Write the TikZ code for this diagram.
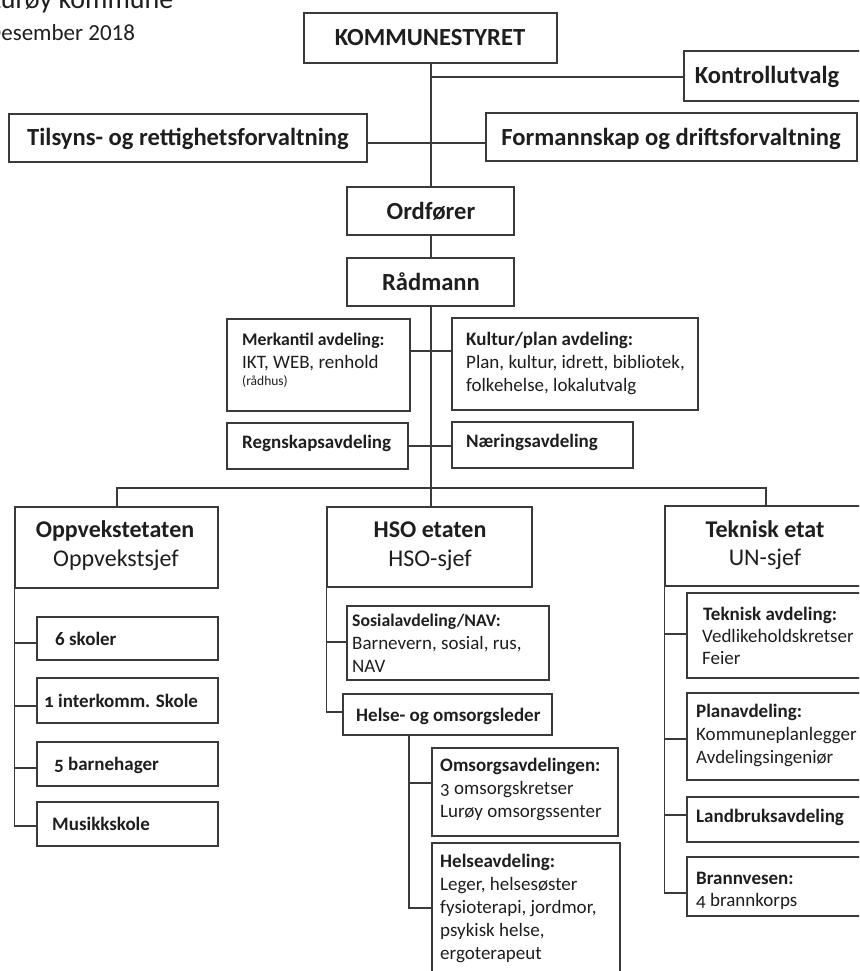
\documentclass[tikz,border=0pt]{standalone}
\usepackage{fontspec}
\setmainfont{Carlito}
\newfontfamily\osf{Carlito}[Numbers=OldStyle]
\usetikzlibrary{fit}
\definecolor{linec}{HTML}{3A3A3A}
\definecolor{txtc}{HTML}{1E1E1E}
\newcommand\fH{\fontsize{28}{32}\selectfont}
\newcommand\fHb{\fontsize{23}{27}\selectfont}
\newcommand\fA{\fontsize{24.6}{28}\selectfont\bfseries}
\newcommand\fE{\fontsize{24}{28}\selectfont}
\newcommand\fS{\fontsize{19}{23}\selectfont}
\newcommand\fSb{\fontsize{17.7}{22}\selectfont\bfseries}
\newcommand\fT{\fontsize{13.5}{15}\selectfont}
\begin{document}
\begin{tikzpicture}[x=1pt,y=-1pt,
  box/.style={draw=linec,line width=1.3pt,inner sep=0pt},
  conn/.style={draw=linec,line width=1.3pt},
  tl/.style={inner sep=0pt,anchor=base west,text=txtc},
  tc/.style={inner sep=0pt,anchor=base,text=txtc}]
\useasboundingbox (0,0) rectangle (859,971);
\clip (0,0) rectangle (859,971);
% header
\node[tl,font=\fH] (h1) at (-11,9) {Lurøy kommune};
\node[tl,font=\fHb] (h2) at (-13,41) {Desember 2018};
% boxes
\node[box,fit={(304,13)(557,63)}] (ks) {};
\node[box,fit={(684,51)(880,101)}] (kon) {};
\node[box,fit={(9,114)(367,162)}] (tils) {};
\node[box,fit={(486,113)(857,161)}] (form) {};
\node[box,fit={(347,187)(514,235)}] (ord) {};
\node[box,fit={(347,258)(514,306)}] (rad) {};
\node[box,fit={(227,319)(410,411)}] (merk) {};
\node[box,fit={(452,318)(698,410)}] (kult) {};
\node[box,fit={(227,423)(408,469)}] (regn) {};
\node[box,fit={(452,422)(633,468)}] (naer) {};
\node[box,fit={(15,507)(218,588)}] (opp) {};
\node[box,fit={(37,617)(218,660)}] (s6) {};
\node[box,fit={(37,678)(218,723)}] (s1) {};
\node[box,fit={(37,742)(218,786)}] (s5) {};
\node[box,fit={(37,802)(218,846)}] (mus) {};
\node[box,fit={(327,507)(532,587)}] (hso) {};
\node[box,fit={(347,606)(549,680)}] (sos) {};
\node[box,fit={(343,694)(552,735)}] (hol) {};
\node[box,fit={(432,748)(618,836)}] (oms) {};
\node[box,fit={(432,843)(620,990)}] (hel) {};
\node[box,fit={(665,506)(880,586)}] (tek) {};
\node[box,fit={(687,593)(880,678)}] (tav) {};
\node[box,fit={(687,693)(880,780)}] (pav) {};
\node[box,fit={(687,797)(880,842)}] (lav) {};
\node[box,fit={(687,857)(880,916)}] (bra) {};
% texts
\node[tc,font=\fA] (ks-t) at (430,46) {KOMMUNESTYRET};
\node[tc,font=\fA] (kon-t) at (767,84) {Kontrollutvalg};
\node[tc,font=\fA] (tils-t) at (188,146) {Tilsyns- og rettighetsforvaltning};
\node[tc,font=\fA] (form-t) at (671,145) {Formannskap og driftsforvaltning};
\node[tc,font=\fA] (ord-t) at (431,219) {Ordfører};
\node[tc,font=\fA] (rad-t) at (431,290) {Rådmann};
\node[tl,font=\fSb] (merk-t1) at (242,345) {Merkantil avdeling:};
\node[tl,font=\fS] (merk-t2) at (242,368) {IKT, WEB, renhold};
\node[tl,font=\fT] (merk-t3) at (242,385) {(rådhus)};
\node[tl,font=\fS\bfseries] (kult-t1) at (466,345) {Kultur/plan avdeling:};
\node[tl,font=\fS] (kult-t2) at (466,368) {Plan, kultur, idrett, bibliotek,};
\node[tl,font=\fS] (kult-t3) at (466,391) {folkehelse, lokalutvalg};
\node[tl,font=\fS\bfseries] (regn-t) at (242,448) {Regnskapsavdeling};
\node[tl,font=\fS\bfseries] (naer-t) at (466,447) {Næringsavdeling};
\node[tc,font=\fE\bfseries] (opp-t1) at (115,537) {Oppvekstetaten};
\node[tc,font=\fE] (opp-t2) at (116,566) {Oppvekstsjef};
\node[tl,font=\fS\bfseries] (s6-t) at (55,645) {6 skoler};
\node[tl,font=\fS\bfseries\osf] (s1-t) at (44,707) {1 interkomm. Skole};
\node[tl,font=\fS\bfseries\osf] (s5-t) at (54,770) {5 barnehager};
\node[tl,font=\fS\bfseries] (mus-t) at (52,830) {Musikkskole};
\node[tc,font=\fE\bfseries] (hso-t1) at (430,537) {HSO etaten};
\node[tc,font=\fE] (hso-t2) at (430,566) {HSO-sjef};
\node[tl,font=\fSb] (sos-t1) at (352,626) {Sosialavdeling/NAV:};
\node[tl,font=\fS] (sos-t2) at (352,649) {Barnevern, sosial, rus,};
\node[tl,font=\fS] (sos-t3) at (352,672) {NAV};
\node[tl,font=\fS\bfseries] (hol-t) at (356,721) {Helse- og omsorgsleder};
\node[tl,font=\fS\bfseries] (oms-t1) at (440,771) {Omsorgsavdelingen:};
\node[tl,font=\fS\osf] (oms-t2) at (440,794) {3 omsorgskretser};
\node[tl,font=\fS] (oms-t3) at (440,817) {Lurøy omsorgssenter};
\node[tl,font=\fS\bfseries] (hel-t1) at (440,867) {Helseavdeling:};
\node[tl,font=\fS] (hel-t2) at (440,890) {Leger, helsesøster};
\node[tl,font=\fS] (hel-t3) at (440,913) {fysioterapi, jordmor,};
\node[tl,font=\fS] (hel-t4) at (440,936) {psykisk helse,};
\node[tl,font=\fS] (hel-t5) at (440,959) {ergoterapeut};
\node[tc,font=\fE\bfseries] (tek-t1) at (765,537) {Teknisk etat};
\node[tc,font=\fE] (tek-t2) at (765,565) {UN-sjef};
\node[tl,font=\fS\bfseries] (tav-t1) at (703,620) {Teknisk avdeling:};
\node[tl,font=\fS] (tav-t2) at (702,642) {Vedlikeholdskretser};
\node[tl,font=\fS] (tav-t3) at (702,664) {Feier};
\node[tl,font=\fS\bfseries] (pav-t1) at (696,717) {Planavdeling:};
\node[tl,font=\fS] (pav-t2) at (696,740) {Kommuneplanlegger};
\node[tl,font=\fS] (pav-t3) at (696,763) {Avdelingsingeniør};
\node[tl,font=\fS\bfseries] (lav-t) at (696,822) {Landbruksavdeling};
\node[tl,font=\fS\bfseries] (bra-t1) at (696,884) {Brannvesen:};
\node[tl,font=\fS\osf] (bra-t2) at (696,906) {4 brannkorps};
% connector coordinates
\coordinate (tr) at (431,0);
\coordinate (y1) at (0,77);
\coordinate (y2) at (0,143);
\coordinate (y3) at (0,351);
\coordinate (y4) at (0,446);
\coordinate (busL) at (117,488);
\coordinate (busR) at (766,488);
\coordinate (kS6) at (0,643);
\coordinate (kS1) at (0,706);
\coordinate (kS5) at (0,768);
\coordinate (kMu) at (0,826);
\coordinate (kSo) at (0,642);
\coordinate (kHo) at (0,712);
\coordinate (hv) at (409,0);
\coordinate (kOm) at (0,783);
\coordinate (kHe) at (0,908);
\coordinate (kTa) at (0,634);
\coordinate (kPa) at (0,739);
\coordinate (kLa) at (0,815);
\coordinate (kBr) at (0,893);
% trunk
\draw[conn] (tr |- ks.south) -- (tr |- ord.north);
\draw[conn] (tr |- ord.south) -- (tr |- rad.north);
\draw[conn] (tr |- rad.south) -- (tr |- hso.north);
\draw[conn] (tr |- y1) -- (kon.west |- y1);
\draw[conn] (tils.east |- y2) -- (form.west |- y2);
\draw[conn] (merk.east |- y3) -- (kult.west |- y3);
\draw[conn] (regn.east |- y4) -- (naer.west |- y4);
\draw[conn] (busL |- opp.north) -- (busL) -- (busR) -- (busR |- tek.north);
% oppvekst
\draw[conn] (opp.south west) -- (opp.south west |- kMu) -- (mus.west |- kMu);
\draw[conn] (opp.south west |- kS6) -- (s6.west |- kS6);
\draw[conn] (opp.south west |- kS1) -- (s1.west |- kS1);
\draw[conn] (opp.south west |- kS5) -- (s5.west |- kS5);
% hso
\draw[conn] (hso.south west) -- (hso.south west |- kHo) -- (hol.west |- kHo);
\draw[conn] (hso.south west |- kSo) -- (sos.west |- kSo);
\draw[conn] (hv |- hol.south) -- (hv |- kHe) -- (hel.west |- kHe);
\draw[conn] (hv |- kOm) -- (oms.west |- kOm);
% teknisk
\draw[conn] (tek.south west) -- (tek.south west |- kBr) -- (bra.west |- kBr);
\draw[conn] (tek.south west |- kTa) -- (tav.west |- kTa);
\draw[conn] (tek.south west |- kPa) -- (pav.west |- kPa);
\draw[conn] (tek.south west |- kLa) -- (lav.west |- kLa);
\end{tikzpicture}
\end{document}
